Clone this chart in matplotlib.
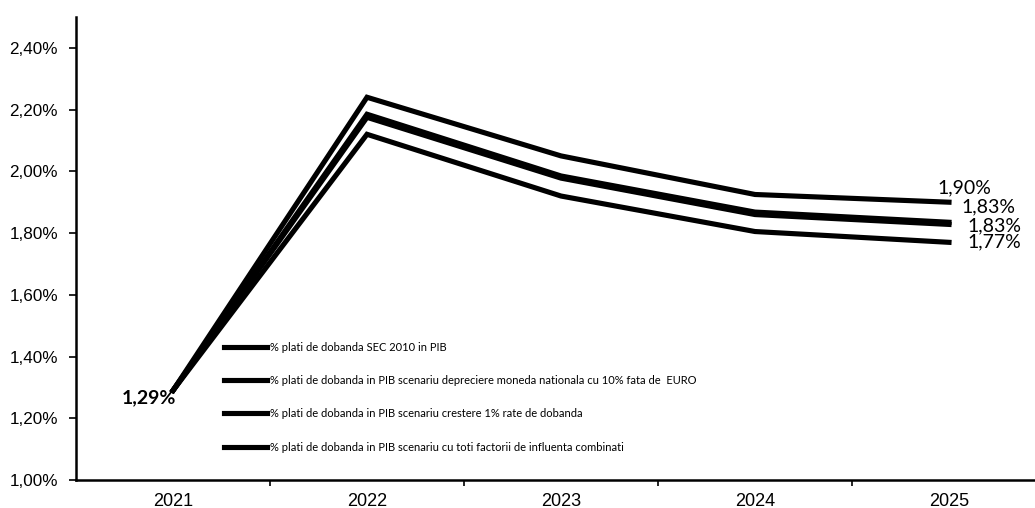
import numpy as np
import matplotlib
matplotlib.use("Agg")
import matplotlib.pyplot as plt
from matplotlib.ticker import FuncFormatter, FixedLocator

# data (percent of GDP)
years = ["2021", "2022", "2023", "2024", "2025"]
sec2010 = [1.29, 2.12, 1.92, 1.805, 1.77]
depreciere = [1.29, 2.185, 1.985, 1.868, 1.835]
crestere_rate = [1.29, 2.175, 1.978, 1.860, 1.828]
combinati = [1.29, 2.24, 2.05, 1.925, 1.90]

labels = [
    "% plati de dobanda SEC 2010 in PIB",
    "% plati de dobanda in PIB scenariu depreciere moneda nationala cu 10% fata de  EURO",
    "% plati de dobanda in PIB scenariu crestere 1% rate de dobanda",
    "% plati de dobanda in PIB scenariu cu toti factorii de influenta combinati",
]
end_labels = ["1,77%", "1,83%", "1,83%", "1,90%"]

tick_font = "Liberation Sans"
lab_font = "Lato"

fig = plt.figure(figsize=(10.35, 5.08), dpi=100)
ax = fig.add_axes([76 / 1035, 28 / 508, 970 / 1035, 463 / 508])

x = np.arange(len(years))
series = [sec2010, depreciere, crestere_rate, combinati]
for vals, lab in zip(series, labels):
    ax.plot(x, vals, color="black", lw=3.7, solid_joinstyle="miter", label=lab)

ax.set_xlim(-0.5, 4.5)
ax.set_ylim(1.0, 2.5)

ax.set_yticks(np.arange(1.0, 2.41, 0.2))
ax.yaxis.set_major_formatter(FuncFormatter(lambda v, p: f"{v:.2f}%".replace(".", ",")))
ax.set_xticks(x)
ax.set_xticklabels(years)
ax.xaxis.set_minor_locator(FixedLocator(np.arange(0.5, 4.0, 1.0)))
ax.tick_params(axis="x", which="major", length=0, pad=9)
ax.tick_params(axis="x", which="minor", length=4, width=1.2, direction="out")
ax.tick_params(axis="y", length=5, width=1.2, direction="out", pad=8)
for t in ax.get_xticklabels():
    t.set_fontfamily(tick_font)
    t.set_fontsize(13)
for t in ax.get_yticklabels():
    t.set_fontfamily(tick_font)
    t.set_fontsize(12.3)

for s in ["top", "right"]:
    ax.spines[s].set_visible(False)
for s in ["left", "bottom"]:
    ax.spines[s].set_linewidth(1.8)

# start label
ax.annotate("1,29%", (x[0], sec2010[0]), xytext=(2, -5.5), textcoords="offset points",
            ha="right", va="center", fontsize=14, fontweight="bold", fontfamily=lab_font)

# end labels
offsets = [(13, 0), (9, 11), (13, -1), (-8, 10)]
for vals, txt, off in zip(series, end_labels, offsets):
    ax.annotate(txt, (x[-1], vals[-1]), xytext=off, textcoords="offset points",
                ha="left", va="center", fontsize=14, fontfamily=lab_font)

leg = ax.legend(loc="upper left", bbox_to_anchor=(0.142, 0.32), frameon=False,
                handlelength=3.9, handletextpad=0.3, labelspacing=2.0,
                prop={"family": lab_font, "size": 8})

fig.savefig("out.png", dpi=100)
